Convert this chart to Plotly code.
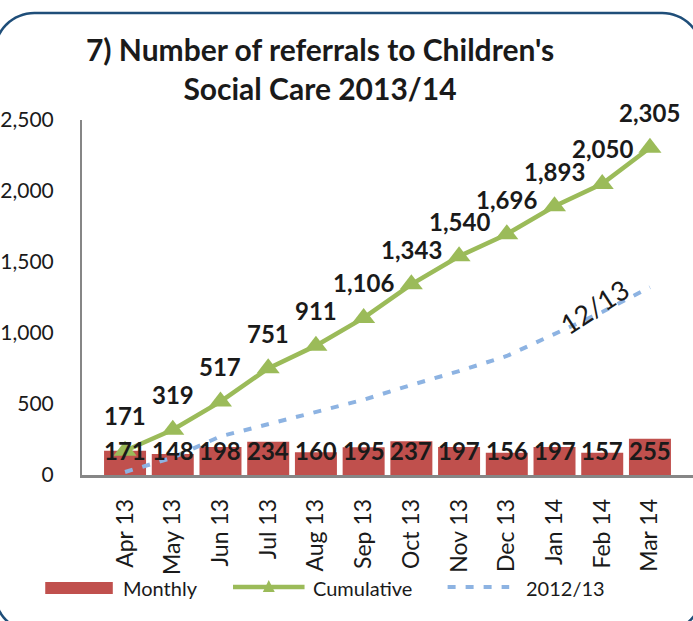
import math
import plotly.graph_objects as go

months = ["Apr 13", "May 13", "Jun 13", "Jul 13", "Aug 13", "Sep 13",
          "Oct 13", "Nov 13", "Dec 13", "Jan 14", "Feb 14", "Mar 14"]
monthly = [171, 148, 198, 234, 160, 195, 237, 197, 156, 197, 157, 255]
cumulative = [171, 319, 517, 751, 911, 1106, 1343, 1540, 1696, 1893, 2050, 2305]
prev_year = [21, 123, 272, 357, 446, 530, 634, 732, 838, 990, 1148, 1322]
y_ticks = [0, 500, 1000, 1500, 2000, 2500]

W, H = 693, 621
ML, MR, MT, MB = 78, 0, 120, 146
PW, PH = W - ML - MR, H - MT - MB

RED = "#c0504d"
GREEN = "#9bbb59"
BLUE = "#8db3e2"
TXT = "#1a1a1a"
FONT = "Lato"


def px(x):
    return (x - ML) / PW


def py(y):
    return (H - MB - y) / PH


fig = go.Figure()
fig.add_trace(go.Bar(x=months, y=monthly, name="Monthly", marker_color=RED,
                     marker_line_width=0, showlegend=False))
fig.add_trace(go.Scatter(x=months, y=prev_year, name="2012/13", mode="lines",
                         line=dict(color=BLUE, width=4, dash="8px,10px"),
                         showlegend=False))
fig.add_trace(go.Scatter(x=months, y=cumulative, name="Cumulative",
                         mode="lines+markers",
                         line=dict(color=GREEN, width=4.5),
                         marker=dict(symbol="triangle-up", size=20, color=GREEN),
                         showlegend=False))

annotations = []
for m, v in zip(months, cumulative):
    annotations.append(dict(x=m, y=v, text=f"<b>{v:,}</b>", showarrow=False,
                            yshift=35, font=dict(family=FONT, size=24, color=TXT)))
for m, v in zip(months, monthly):
    annotations.append(dict(x=m, y=0, text=f"<b>{v:,}</b>", showarrow=False,
                            yshift=25, font=dict(family=FONT, size=24, color=TXT)))
annotations.append(dict(x=months[9], y=prev_year[9], text="12/13", showarrow=False,
                        xshift=40, yshift=28, textangle=-33,
                        font=dict(family=FONT, size=27, color=TXT)))

# legend texts
leg_y = py(588)
for label, x0 in [("Monthly", 117), ("Cumulative", 308), ("2012/13", 523)]:
    annotations.append(dict(x=px(x0), y=leg_y, xref="paper", yref="paper",
                            text=label, showarrow=False, xanchor="left",
                            yanchor="middle",
                            font=dict(family=FONT, size=20, color=TXT)))

shapes = []
# legend symbols
shapes.append(dict(type="rect", xref="paper", yref="paper",
                   x0=px(41), x1=px(109), y0=py(594), y1=py(582),
                   fillcolor=RED, line_width=0))
shapes.append(dict(type="line", xref="paper", yref="paper",
                   x0=px(230), x1=px(302), y0=py(587), y1=py(587),
                   line=dict(color=GREEN, width=4.5)))
tri = [(266, 580), (272, 592), (260, 592)]
shapes.append(dict(type="path", xref="paper", yref="paper",
                   path="M " + " L ".join(f"{px(a)},{py(b)}" for a, b in tri) + " Z",
                   fillcolor=GREEN, line_width=0))
shapes.append(dict(type="line", xref="paper", yref="paper",
                   x0=px(446), x1=px(508), y0=py(587), y1=py(587),
                   line=dict(color=BLUE, width=4, dash="8px,10px")))

# rounded border (partly outside the picture, as in the source)
L, T, R, B, r = -10, 13, 702, 632, 40
pts = []
corners = [((R - r, T + r), -90, 0), ((R - r, B - r), 0, 90),
           ((L + r, B - r), 90, 180), ((L + r, T + r), 180, 270)]
for (cx, cy), a0, a1 in corners:
    for k in range(17):
        a = math.radians(a0 + (a1 - a0) * k / 16)
        pts.append((cx + r * math.cos(a), cy + r * math.sin(a)))
path = "M " + " L ".join(f"{px(a):.5f},{py(b):.5f}" for a, b in pts) + " Z"
shapes.append(dict(type="path", xref="paper", yref="paper", path=path,
                   line=dict(color="#1f4e79", width=2.5), layer="below"))

fig.update_layout(
    width=W, height=H,
    margin=dict(l=ML, r=MR, t=MT, b=MB, pad=0),
    paper_bgcolor="white", plot_bgcolor="white",
    bargap=0.12,
    showlegend=False,
    title=dict(text="<b>7) Number of referrals to Children's<br>Social Care 2013/14</b>",
               x=320 / W, xanchor="center", y=1 - 61 / H, yanchor="middle",
               font=dict(family=FONT, size=30, color=TXT)),
    annotations=annotations,
    shapes=shapes,
    xaxis=dict(type="category", categoryorder="array", categoryarray=months,
               showline=True, linecolor="#868686", linewidth=2.5,
               showgrid=False, ticks="", tickangle=-90, ticklabelstandoff=12,
               tickfont=dict(family=FONT, size=23, color=TXT)),
    yaxis=dict(range=[0, 2500], tickvals=y_ticks, tickformat=",",
               showline=True, linecolor="#868686", linewidth=2,
               showgrid=False, zeroline=False, ticks="", ticklabelstandoff=22,
               tickfont=dict(family=FONT, size=21, color=TXT)),
)

fig.write_html("out.html", config={"displayModeBar": False},
               post_script="document.body.style.margin='0';document.body.style.padding='0';")
